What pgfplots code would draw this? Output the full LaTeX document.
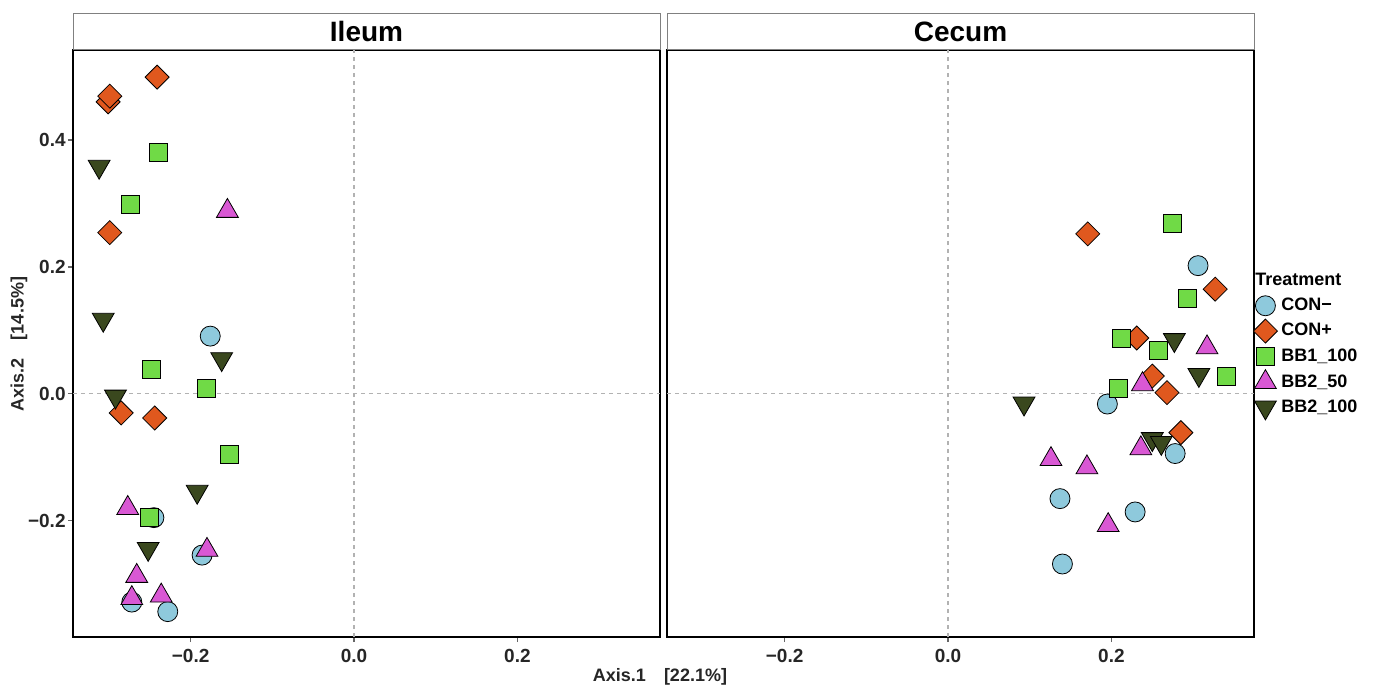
\documentclass[border=0pt]{standalone}
\usepackage{fontspec}
\setmainfont{Liberation Sans}
\usepackage{pgfplots}
\pgfplotsset{compat=1.18}

\definecolor{cconm}{RGB}{142,201,220}
\definecolor{cconp}{RGB}{224,88,30}
\definecolor{cbbone}{RGB}{112,218,70}
\definecolor{cbbfifty}{RGB}{217,88,212}
\definecolor{cbbhund}{RGB}{58,72,30}

\tikzset{zeroline/.style={black!30, line width=0.6pt, dash pattern=on 2pt off 2pt}}

\pgfplotsset{
  panel/.style={
    scale only axis, width=293.5pt, height=293.5pt,
    xmin=-0.344, xmax=0.3745, ymin=-0.383, ymax=0.5417,
    axis line style={line width=1pt, black},
    tick align=outside, major tick length=2.5pt,
    xtick pos=bottom, ytick pos=left,
    tick style={black!60, line width=0.6pt},
    xtick={-0.2,0,0.2}, xticklabels={−0.2,0.0,0.2},
    ticklabel style={font=\fontsize{9.5}{11}\selectfont\bfseries, text=black!85},
    yticklabel style={inner sep=1pt},
    title style={at={(0.5,1)}, anchor=south, yshift=-6pt, draw=black!50, line width=0.5pt,
      fill=white, minimum width=293.5pt, minimum height=18pt, inner sep=0pt,
      font=\fontsize{14}{16}\selectfont\bfseries},
    legend image code/.code={\draw[mark repeat=2,mark phase=2,##1]
      plot coordinates {(0pt,0pt)(6pt,0pt)(12pt,0pt)};},
  },
  mk/.style={only marks, mark options={draw=black!75, line width=0.5pt}},
  conm/.style={mk, mark=*, mark size=5pt, mark options={fill=cconm}},
  conp/.style={mk, mark=square*, mark size=4.25pt, mark options={fill=cconp, rotate=45}},
  bbone/.style={mk, mark=square*, mark size=4.5pt, mark options={fill=cbbone}},
  bbfifty/.style={mk, mark=triangle*, mark size=6.3pt, mark options={fill=cbbfifty}},
  bbhund/.style={mk, mark=triangle*, mark size=6.3pt, mark options={fill=cbbhund, rotate=180}},
}

\begin{document}
\begin{tikzpicture}
\useasboundingbox (0,0) rectangle (697pt,-343pt);

% Ileum
\begin{axis}[panel, at={(36.5pt,-318.5pt)}, anchor=south west,
    title={Ileum},
    ytick={-0.2,0,0.2,0.4}, yticklabels={−0.2,0.0,0.2,0.4}]
  \draw[zeroline] (axis cs:0,-0.383) -- (axis cs:0,0.5417);
  \draw[zeroline] (axis cs:-0.344,0) -- (axis cs:0.3745,0);
  \addplot[conm] coordinates {(-0.176,0.091) (-0.245,-0.195) (-0.186,-0.254) (-0.272,-0.328) (-0.228,-0.343)};
  \addplot[conp] coordinates {(-0.301,0.460) (-0.299,0.469) (-0.241,0.499) (-0.299,0.254) (-0.285,-0.030) (-0.244,-0.038)};
  \addplot[bbone] coordinates {(-0.240,0.380) (-0.274,0.299) (-0.248,0.038) (-0.181,0.008) (-0.153,-0.096) (-0.251,-0.195)};
  \addplot[bbfifty] coordinates {(-0.155,0.288) (-0.277,-0.180) (-0.180,-0.246) (-0.266,-0.287) (-0.272,-0.322) (-0.236,-0.318)};
  \addplot[bbhund] coordinates {(-0.312,0.358) (-0.307,0.117) (-0.162,0.055) (-0.292,-0.004) (-0.192,-0.154) (-0.252,-0.244)};
\end{axis}

% Cecum
\begin{axis}[panel, at={(333.5pt,-318.5pt)}, anchor=south west,
    title={Cecum}, ytick=\empty,
    legend style={at={(1,0.5)}, anchor=west, xshift=-3.5pt, yshift=-0.5pt, draw=none, fill=none,
      font=\fontsize{9}{10}\selectfont\bfseries, row sep=0.75pt},
    legend cell align=left]
  \draw[zeroline] (axis cs:0,-0.383) -- (axis cs:0,0.5417);
  \draw[zeroline] (axis cs:-0.344,0) -- (axis cs:0.3745,0);
  \addlegendimage{empty legend}
  \addlegendentry{\hspace*{-13pt}Treatment\rule[-3pt]{0pt}{3pt}}
  \addplot[conm] coordinates {(0.306,0.202) (0.195,-0.016) (0.278,-0.094) (0.137,-0.165) (0.229,-0.186) (0.140,-0.268)};
  \addlegendentry{CON−}
  \addplot[conp] coordinates {(0.171,0.252) (0.327,0.165) (0.231,0.088) (0.250,0.028) (0.268,0.002) (0.285,-0.061)};
  \addlegendentry{CON+}
  \addplot[bbone] coordinates {(0.275,0.269) (0.293,0.151) (0.212,0.088) (0.257,0.069) (0.209,0.008) (0.341,0.027)};
  \addlegendentry{BB1\_100}
  \addplot[bbfifty] coordinates {(0.317,0.073) (0.238,0.015) (0.236,-0.086) (0.126,-0.103) (0.170,-0.116) (0.196,-0.207)};
  \addlegendentry{BB2\_50}
  \addplot[bbhund] coordinates {(0.277,0.085) (0.307,0.030) (0.093,-0.015) (0.250,-0.071) (0.261,-0.077)};
  \addlegendentry{BB2\_100}
\end{axis}

\node[font=\fontsize{9}{10}\selectfont\bfseries, text=black!85] at (330pt,-338.5pt) {Axis.1\hspace{9pt}[22.1\%]};
\node[font=\fontsize{9}{10}\selectfont\bfseries, text=black!85, rotate=90] at (9.5pt,-172pt) {Axis.2\hspace{9pt}[14.5\%]};
\end{tikzpicture}
\end{document}
